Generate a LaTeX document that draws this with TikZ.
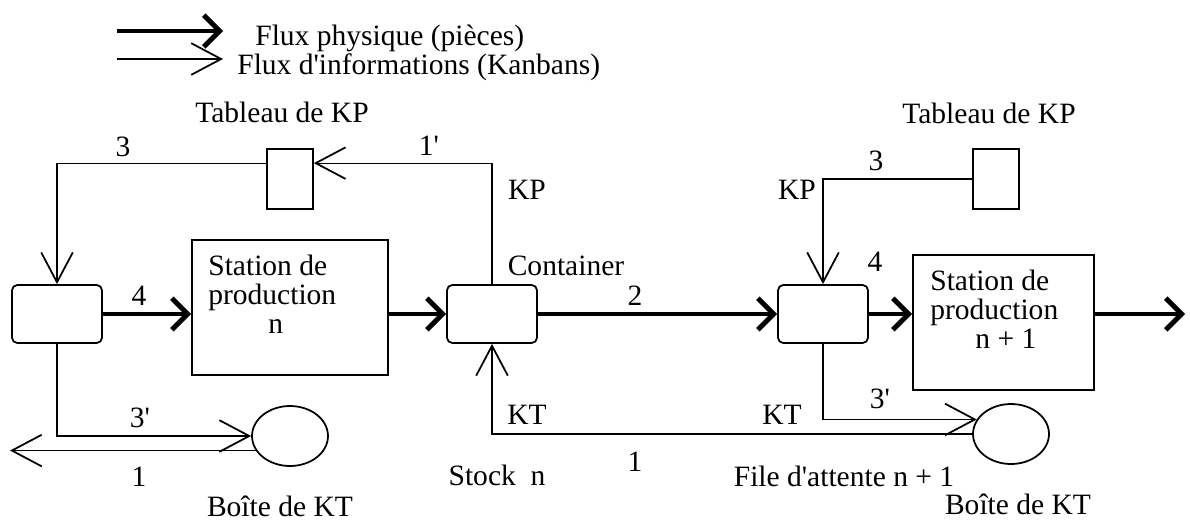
\documentclass[tikz,border=0pt]{standalone}
\usepackage{fontspec}
\setmainfont{Liberation Serif}
\usetikzlibrary{arrows.meta, shapes.geometric, positioning}

\tikzset{
    phys/.style={line width=2.8pt, -{Straight Barb[length=9pt,width=18pt]}},
    info/.style={line width=0.6pt, -{Straight Barb[length=17pt,width=18pt,line width=1pt]}},
    cont/.style={draw, line width=1pt, rounded corners=3pt, inner sep=0pt,
        minimum width=1.8cm, minimum height=1.16cm},
    station/.style={draw, line width=1pt, inner sep=0pt, minimum height=2.7cm},
    tableau/.style={draw, line width=1pt, inner sep=0pt, minimum width=0.92cm, minimum height=1.2cm},
    boite/.style={draw, ellipse, line width=1pt, inner sep=0pt, minimum width=1.52cm, minimum height=1.2cm},
    lbl/.style={inner sep=0pt, text height=11pt, text depth=0pt},
    txt/.style={inner sep=0pt, anchor=base west}
}

\begin{document}
\begin{tikzpicture}[x=0.02cm, y=-0.02cm, font=\fontsize{16.8}{20}\selectfont]
    \useasboundingbox (0,0) rectangle (1190,521);

    % legende
    \coordinate (l0) at (117,31);
    \coordinate (l1) at (223,31);
    \coordinate (l2) at (117,59);
    \coordinate (l3) at (223,59);
    \draw[phys] (l0) -- (l1);
    \draw[info] (l2) -- (l3);
    \node[txt] (lt0) at (255,45) {Flux physique (pièces)};
    \node[txt] (lt1) at (237,74) {Flux d\textquotesingle informations (Kanbans)};

    \node[cont] (c0) at (57,314) {};
    \node[station, minimum width=3.92cm] (s0) at (290,307.5) {};
    \node[cont] (c1) at (492,314) {};
    \node[cont] (c2) at (823,314) {};
    \node[station, minimum width=3.62cm] (s1) at (1003.5,322.5) {};
    \node[tableau] (t0) at (290,179) {};
    \node[tableau] (t1) at (996,179) {};
    \node[boite] (b0) at (290,436) {};
    \node[boite] (b1) at (1011,434) {};
    \coordinate (out) at (1185,314);
    \coordinate (exit) at (10,450);

    \node[txt] (s0a) at (208,275) {Station de};
    \node[txt] (s0b) at (208,304) {production};
    \node[txt] (s0c) at (268,333) {n};
    \node[txt] (s1a) at (930,290) {Station de};
    \node[txt] (s1b) at (930,319) {production};
    \node[txt] (s1c) at (975,348) {n + 1};

    \draw[phys] (c0) -- (c0 -| s0.west);
    \draw[phys] (c0 -| s0.east) -- (c1);
    \draw[phys] (c1) -- (c2);
    \draw[phys] (c2) -- (c2 -| s1.west);
    \draw[phys] (c2 -| s1.east) -- (out);

    \draw[info] (c1.north) |- ([yshift=-0.3cm]t0.north east);
    \draw[info] ([yshift=-0.3cm]t0.north west) -| (c0.north);
    \draw[info] (t1.west) -| (c2.north);
    \draw[info] (c0.south) |- (b0.west);
    \draw[info] (b0.203) -- (b0.203 -| exit);
    \draw[info] (c2.south) |- (b1.157);
    \draw[info] (b1.west) -| (c1.south);

    \node[lbl] (n0) at (282,113) {Tableau de KP};
    \node[lbl] (n1) at (989,114) {Tableau de KP};
    \node[lbl] (n2) at (123,147) {3};
    \node[lbl] (n3) at (429,146) {1\textquotesingle};
    \node[lbl] (n4) at (527,190) {KP};
    \node[lbl] (n5) at (566,266) {Container};
    \node[lbl] (n6) at (635,296) {2};
    \node[lbl] (n7) at (139,296) {4};
    \node[lbl] (n8) at (797,190) {KP};
    \node[lbl] (n9) at (876,161) {3};
    \node[lbl] (n10) at (875,262) {4};
    \node[lbl] (n11) at (140,418) {3\textquotesingle};
    \node[lbl] (n12) at (139,477) {1};
    \node[lbl] (n13) at (280,507) {Boîte de KT};
    \node[lbl] (n14) at (527,415) {KT};
    \node[lbl] (n15) at (635,462) {1};
    \node[lbl] (n16) at (497,476) {Stock~~n};
    \node[lbl] (n17) at (782,415) {KT};
    \node[lbl] (n18) at (880,399) {3\textquotesingle};
    \node[lbl] (n19) at (844,477) {File d\textquotesingle attente n + 1};
    \node[lbl] (n20) at (1018,505) {Boîte de KT};
\end{tikzpicture}
\end{document}
